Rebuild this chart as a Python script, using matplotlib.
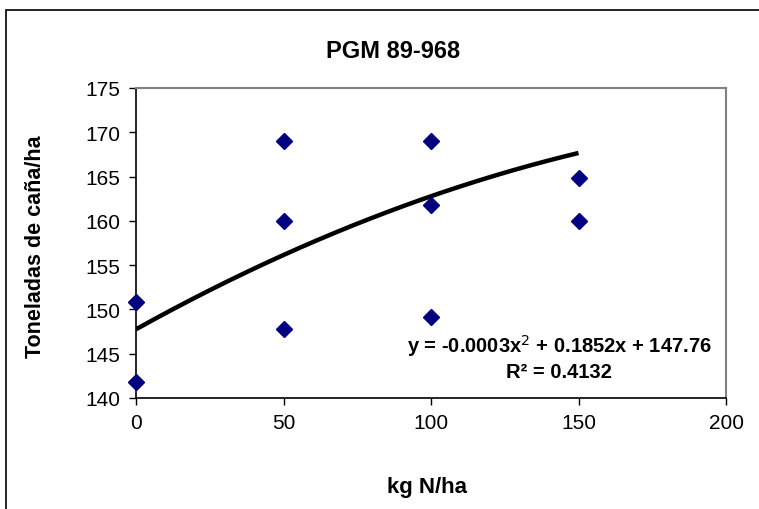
import matplotlib.pyplot as plt
import numpy as np
from matplotlib.patches import Rectangle

plt.rcParams['font.family'] = ['Liberation Sans', 'DejaVu Sans']

# nitrogen dose (kg N/ha) and cane yield (t/ha)
dose = [0, 0, 50, 50, 50, 100, 100, 100, 150, 150]
yield_t = [150.8, 141.8, 169.0, 160.0, 147.8, 169.0, 161.8, 149.1, 164.8, 160.0]
x_ticks = [0, 50, 100, 150, 200]
y_ticks = [140, 145, 150, 155, 160, 165, 170, 175]
# trend line as drawn (2nd order polynomial, x from 0 to 150)
trend_coef = [-0.00035, 0.1852, 147.76]
trend_range = [0, 150]
equation = "y = -0.0003x$^2$ + 0.1852x + 147.76"
r_squared = "R² = 0.4132"


def main():
    W, H = 759, 510
    fig = plt.figure(figsize=(W / 100, H / 100), dpi=100)

    # outer chart frame
    fig.patches.append(Rectangle((6 / W, -0.2), 1.2, 1.2 - 11 / H, transform=fig.transFigure,
                                 fill=False, edgecolor='black', linewidth=1.2))

    ax = fig.add_axes([136 / W, 1 - 399 / H, (726 - 136) / W, (399 - 89) / H])
    ax.set_xlim(0, 200)
    ax.set_ylim(140, 175)
    ax.set_xticks(x_ticks)
    ax.set_yticks(y_ticks)
    ax.tick_params(direction='out', length=5, width=1, labelsize=15, pad=6)

    for side in ['top', 'right']:
        ax.spines[side].set_color('#808080')
        ax.spines[side].set_linewidth(1.5)
    for side in ['left', 'bottom']:
        ax.spines[side].set_color('black')
        ax.spines[side].set_linewidth(1.2)

    ax.plot(dose, yield_t, linestyle='none', marker='D', markersize=8,
            color='#000080', clip_on=False, zorder=3)

    xs = np.linspace(trend_range[0], trend_range[1], 200)
    ax.plot(xs, np.polyval(trend_coef, xs), color='black', linewidth=3.2,
            solid_capstyle='butt', zorder=2)

    fig.text(559 / W, 1 - 346 / H, equation, ha='center', va='center',
             fontsize=14.5, fontweight='bold')
    fig.text(559 / W, 1 - 373 / H, r_squared, ha='center', va='center',
             fontsize=14.5, fontweight='bold')

    fig.text(393 / W, 1 - 52 / H, "PGM 89-968", ha='center', va='center',
             fontsize=17, fontweight='bold')
    fig.text(427 / W, 1 - 487 / H, "kg N/ha", ha='center', va='center',
             fontsize=16, fontweight='bold')
    fig.text(36 / W, 1 - 247 / H, "Toneladas de caña/ha", ha='center', va='center',
             rotation=90, fontsize=15.5, fontweight='bold')

    fig.savefig('out.png', dpi=100)


if __name__ == "__main__":
    main()
